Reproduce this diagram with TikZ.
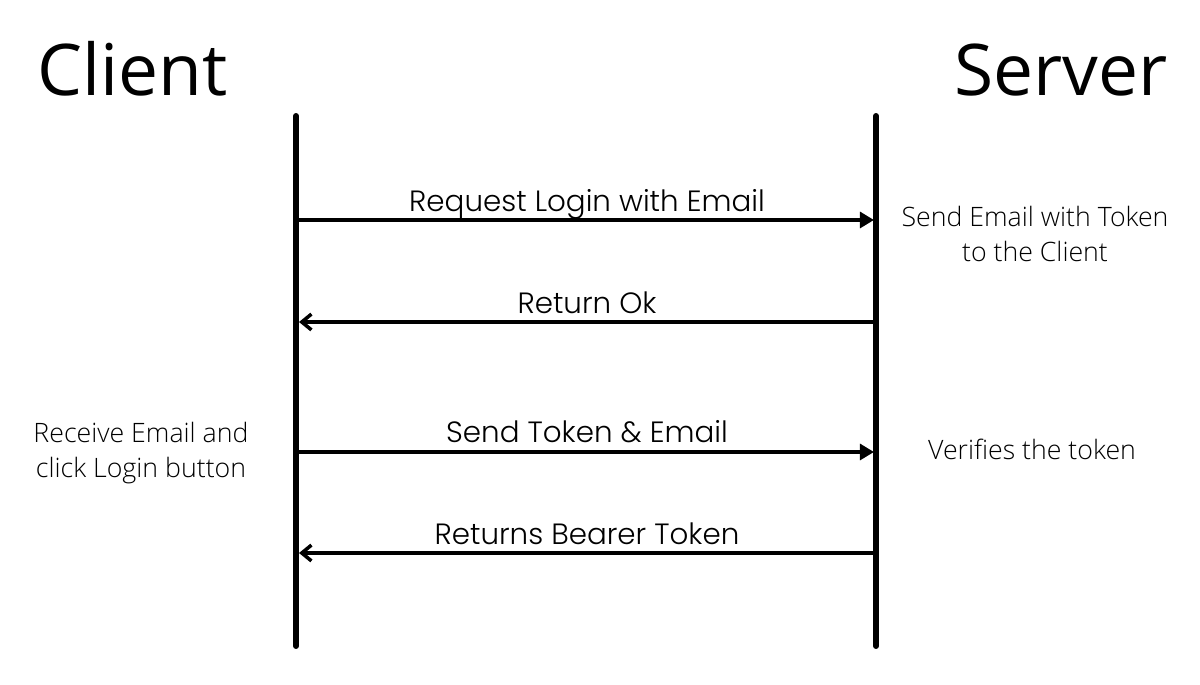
\documentclass[tikz,border=0pt]{standalone}
\usepackage{fontspec}
\setmainfont{Open Sans}
\newfontfamily\notefont{Open Sans Light}
\newfontfamily\msgfont{Poppins Light}
\usetikzlibrary{arrows.meta}

\begin{document}
\begin{tikzpicture}[x=0.02cm, y=-0.02cm,
	lifeline/.style = {line width=3.4pt, line cap=round},
	msg/.style = {line width=2pt},
	req/.style = {msg, -{Triangle[length=8pt, width=9pt]}},
	resp/.style = {msg, {Straight Barb[length=5.5pt, width=9pt, line width=2pt]}-},
	title/.style = {font=\fontsize{40.6}{49}\selectfont, inner sep=0pt},
	label/.style = {font=\msgfont\fontsize{16.7}{19}\selectfont, inner sep=0pt, anchor=base},
	note/.style = {font=\notefont\fontsize{15.2}{20.4}\selectfont, inner sep=0pt, align=center, anchor=base}
]
\useasboundingbox (0, 0) rectangle (1200, 685);
%\draw[help lines] (0,0) grid[step=50] (1200,685);

\node[title, anchor=base west] (client) at (37, 96) {Client};
\node[title, anchor=base east] (server) at (1168, 96) {Server};

\coordinate (cTop) at (296, 116);
\coordinate (cBot) at (296, 646);
\coordinate (sTop) at (876, 116);
\coordinate (sBot) at (876, 646);
\draw[lifeline] (cTop) -- (cBot);
\draw[lifeline] (sTop) -- (sBot);

% messages
\coordinate (c1) at (299, 220);  \coordinate (s1) at (874, 220);
\coordinate (c2) at (299, 322);  \coordinate (s2) at (874, 322);
\coordinate (c3) at (299, 452);  \coordinate (s3) at (874, 452);
\coordinate (c4) at (299, 553);  \coordinate (s4) at (874, 553);

\draw[req] (c1) -- (s1);
\draw[resp] (c2) -- (s2);
\draw[req] (c3) -- (s3);
\draw[resp] (c4) -- (s4);

\node[label] (m1) at (587, 212) {Request Login with Email};
\node[label] (m2) at (587, 314) {Return Ok};
\node[label] (m3) at (587, 443) {Send Token \& Email};
\node[label] (m4) at (587, 544) {Returns Bearer Token};

% notes (base = last line)
\node[note] (sendmail) at (1035, 262) {Send Email with Token\\to the Client};
\node[note] (verify) at (1032, 460) {Verifies the token};
\node[note] (receive) at (141, 478) {Receive Email and\\click Login button};
\end{tikzpicture}
\end{document}
